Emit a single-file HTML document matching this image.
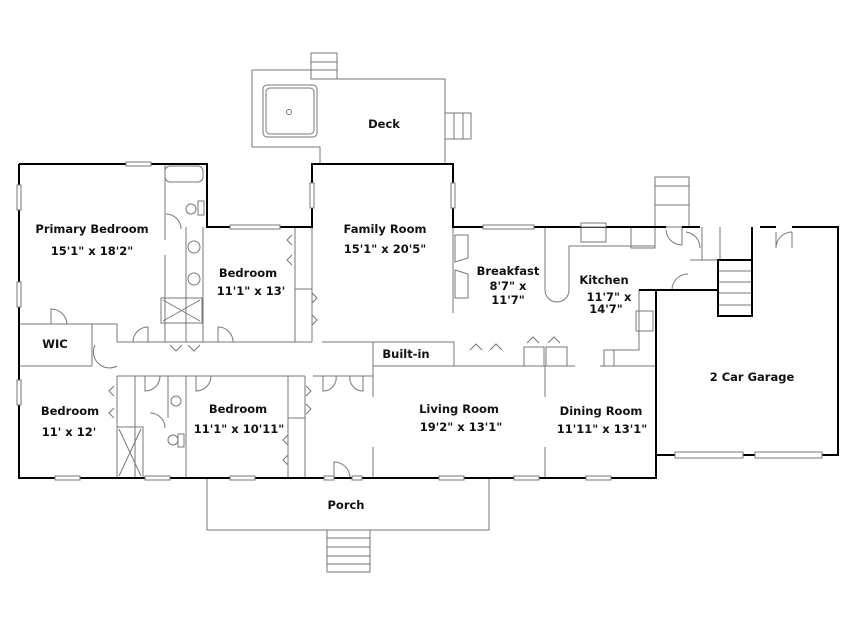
<!DOCTYPE html>
<html><head><style>html,body{margin:0;padding:0;background:#fff}svg{display:block}
text{font-family:"DejaVu Sans","Liberation Sans",sans-serif;font-weight:bold;font-size:11.5px;fill:#111;text-anchor:middle}</style></head>
<body>
<svg width="860" height="634" viewBox="0 0 860 634" xmlns="http://www.w3.org/2000/svg">
<g fill="none" stroke="#777" stroke-width="1">
<path d="M252,70 H311 M337,79 H445 V164 M252,70 V147 H320 V164"/>
<rect x="311" y="53" width="26" height="26"/><path d="M311,62H337M311,70H337"/>
<rect x="263" y="85" width="54" height="52" rx="4"/><rect x="266" y="88" width="48" height="46" rx="4"/>
<circle cx="289" cy="112" r="2.5"/>
<rect x="445" y="113" width="26" height="26"/><path d="M454,113V139M463,113V139"/>
<path d="M207,478 V530 H489 V478"/>
<rect x="327" y="530" width="43" height="42"/><path d="M327,538H370M327,547H370M327,556H370M327,564H370"/>
<rect x="655" y="177" width="34" height="50"/><path d="M655,186H689M655,205H689"/>
<path d="M165,164 V240 M165,255 V342 M186,227 V342 M203,227 V342"/>
<rect x="165" y="166" width="38" height="16" rx="5"/>
<circle cx="191" cy="209" r="5"/><rect x="198" y="201" width="6" height="14"/>
<circle cx="194" cy="247" r="6"/><circle cx="194" cy="279" r="6"/>
<rect x="161" y="298" width="41" height="25"/><path d="M163,300L200,321M200,300L163,321"/>
<path d="M295,227 V342 M295,289 H312 M312,164 V342"/>
<path d="M19,324 H117 V342 M92,324 V366 M19,366 H92"/>
<path d="M117,342 H312 M322,342 H365 M117,376 H305 M305,376 V478 M117,376 V478 M135,376 V478 M168,376 V418 M186,376 V478"/>
<rect x="117" y="427" width="26" height="51"/><path d="M119,429L141,476M141,429L119,476"/>
<circle cx="176" cy="401" r="5"/><circle cx="173" cy="440" r="5"/><rect x="178" y="434" width="6" height="13"/>
<path d="M288,376 V478 M288,418 H305"/>
<path d="M313,376 H373 M373,342 V397 M373,447 V478 M365,342 H454 V366 M373,366 H575 M600,366 H656"/>
<rect x="524" y="347" width="20" height="19"/><rect x="546" y="347" width="21" height="19"/>
<path d="M545,366 V397 M545,447 V478"/>
<path d="M453,227 V313"/>
<path d="M455,235 H468 V258 L455,262 Z M455,270 L468,274 V298 H455 Z"/>
<path d="M545,227 V290 A12,12 0 0 0 569,290 V246 H655"/>
<rect x="581" y="226" width="25" height="16"/><rect x="631" y="227" width="24" height="21"/>
<path d="M639,290 V350 H604 V366 M614,350 V366"/>
<rect x="636" y="311" width="17" height="20"/>
<path d="M702,227 V260 M718,271H752 M718,282H752 M718,293H752 M718,305H752 M720,227 V260 M690,260 H718"/>
<path d="M166,214 A15,15 0 0 1 181,229 M133,342 A15,15 0 0 1 148,327 V342 M218,342 V327 A15,15 0 0 1 233,342 M51,324 V309 A16,16 0 0 1 67,324 M95,345 A16,16 0 0 0 117,366 M145,376 V391 A15,15 0 0 0 160,376 M196,376 V391 A15,15 0 0 0 211,376 M150,413 A15,15 0 0 1 165,428 M323,376 V391 A13,13 0 0 0 336,376 M363,376 V391 A13,13 0 0 1 350,376 M334,478 V462 A16,16 0 0 1 350,478 M666,230 A16,16 0 0 0 682,245 V227 M686,232 A16,16 0 0 1 700,248 M672,290 A16,16 0 0 1 688,274 M776,248 V232 M776,248 A16,16 0 0 1 792,232 M792,232V248"/>
<path d="M170,345l6,6l6,-6 M188,345l6,6l6,-6 M292,235l-5,5l5,5 M292,255l-5,5l5,5 M312,293l5,5l-5,5 M312,315l5,5l-5,5 M114,386l-5,5l5,5 M114,408l-5,5l5,5 M306,386l5,5l-5,5 M306,404l5,5l-5,5 M288,435l-5,5l5,5 M288,455l-5,5l5,5 M470,350l6,-6l6,6 M490,350l6,-6l6,6 M527,343l6,-6l6,6 M548,343l6,-6l6,6"/>
</g>
<g fill="none" stroke="#000" stroke-width="2">
<path d="M19,164 H207 V227 H312 V164 H453 V227 H666 M682,227 H700 M760,227 H776 M792,227 H838 V455 H656 V290 M656,290 H639 M19,164 V478 H656 V455"/>
<path d="M656,290 H718 M718,260 H752 V316 H718 Z M752,227 V260"/>
</g>
<g fill="#fff" stroke="#777" stroke-width="1">
<rect x="126" y="162" width="25" height="4"/><rect x="230" y="225" width="50" height="4"/>
<rect x="17" y="185" width="4" height="25"/><rect x="17" y="282" width="4" height="25"/><rect x="17" y="380" width="4" height="25"/>
<rect x="310" y="183" width="4" height="25"/><rect x="451" y="183" width="4" height="25"/>
<rect x="483" y="225" width="51" height="4"/><rect x="581" y="223" width="25" height="4"/>
<rect x="55" y="476" width="25" height="4"/><rect x="145" y="476" width="25" height="4"/><rect x="230" y="476" width="25" height="4"/>
<rect x="324" y="476" width="10" height="4"/><rect x="352" y="476" width="10" height="4"/>
<rect x="439" y="476" width="25" height="4"/><rect x="514" y="476" width="25" height="4"/><rect x="586" y="476" width="25" height="4"/>
<rect x="675" y="452" width="68" height="6"/><rect x="755" y="452" width="67" height="6"/>
</g>
<text x="384" y="128">Deck</text>
<text x="92" y="233">Primary Bedroom</text><text x="92" y="255">15'1" x 18'2"</text>
<text x="248" y="277">Bedroom</text><text x="251" y="295">11'1" x 13'</text>
<text x="385" y="233">Family Room</text><text x="385" y="253">15'1" x 20'5"</text>
<text x="508" y="275">Breakfast</text><text x="508" y="290">8'7" x</text><text x="508" y="304">11'7"</text>
<text x="604" y="284">Kitchen</text><text x="609" y="301">11'7" x</text><text x="606" y="313">14'7"</text>
<text x="55" y="348">WIC</text><text x="406" y="358">Built-in</text>
<text x="752" y="381">2 Car Garage</text>
<text x="70" y="415">Bedroom</text><text x="69" y="436">11' x 12'</text>
<text x="238" y="413">Bedroom</text><text x="239" y="433">11'1" x 10'11"</text>
<text x="459" y="413">Living Room</text><text x="461" y="431">19'2" x 13'1"</text>
<text x="601" y="415">Dining Room</text><text x="602" y="433">11'11" x 13'1"</text>
<text x="346" y="509">Porch</text>
</svg>
</body></html>
